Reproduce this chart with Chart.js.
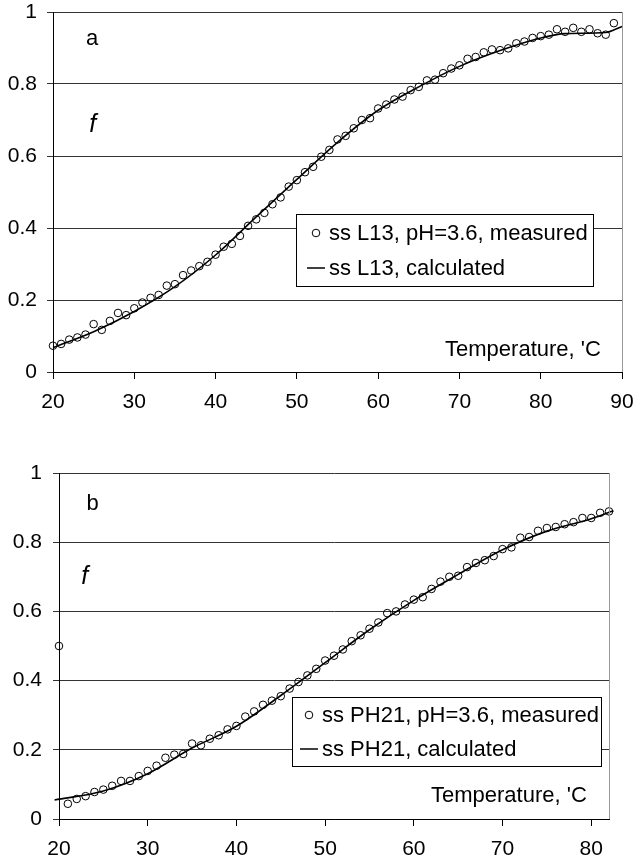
<!DOCTYPE html>
<html>
<head>
<meta charset="utf-8">
<title>f vs temperature</title>
<script src="https://cdn.jsdelivr.net/npm/chart.js@4.4.0/dist/chart.umd.min.js"></script>
<style>
  body { margin: 0; background: #fff; }
  canvas { position: absolute; left: 0; }
  #chartA { top: 0; }
  #chartB { top: 430px; }
</style>
</head>
<body>
<canvas id="chartA" width="634" height="430"></canvas>
<canvas id="chartB" width="634" height="436"></canvas>
<script>
// Panel a: ss L13
const tempA = [20, 21, 22, 23, 24, 25, 26, 27, 28, 29, 30, 31, 32, 33, 34, 35, 36, 37, 38, 39,
  40, 41, 42, 43, 44, 45, 46, 47, 48, 49, 50, 51, 52, 53, 54, 55, 56, 57, 58, 59,
  60, 61, 62, 63, 64, 65, 66, 67, 68, 69, 70, 71, 72, 73, 74, 75, 76, 77, 78, 79,
  80, 81, 82, 83, 84, 85, 86, 87, 88, 89];
const measuredA = [0.073, 0.078, 0.090, 0.096, 0.104, 0.133, 0.117, 0.142, 0.164, 0.158,
  0.177, 0.193, 0.206, 0.214, 0.240, 0.244, 0.269, 0.282, 0.294, 0.306,
  0.326, 0.348, 0.356, 0.378, 0.406, 0.424, 0.442, 0.466, 0.485, 0.515,
  0.533, 0.555, 0.570, 0.598, 0.617, 0.646, 0.656, 0.677, 0.700, 0.705,
  0.732, 0.743, 0.757, 0.765, 0.783, 0.792, 0.810, 0.812, 0.830, 0.843,
  0.852, 0.870, 0.875, 0.888, 0.896, 0.894, 0.899, 0.913, 0.918, 0.928,
  0.933, 0.937, 0.952, 0.945, 0.956, 0.945, 0.952, 0.941, 0.937, 0.969];
const calcTempA = [20, 25, 30, 35, 40, 45, 50, 55, 60, 65, 70, 75, 80, 83, 88, 90];
const calcA = [0.068, 0.112, 0.168, 0.237, 0.325, 0.431, 0.535, 0.638, 0.727, 0.792, 0.849, 0.893, 0.928, 0.940, 0.943, 0.960];

// Panel b: ss PH21
const tempB = [20, 21, 22, 23, 24, 25, 26, 27, 28, 29, 30, 31, 32, 33, 34, 35, 36, 37, 38, 39,
  40, 41, 42, 43, 44, 45, 46, 47, 48, 49, 50, 51, 52, 53, 54, 55, 56, 57, 58, 59,
  60, 61, 62, 63, 64, 65, 66, 67, 68, 69, 70, 71, 72, 73, 74, 75, 76, 77, 78, 79,
  80, 81, 82];
const measuredB = [0.500, 0.044, 0.058, 0.066, 0.078, 0.085, 0.096, 0.110, 0.110, 0.124,
  0.139, 0.154, 0.177, 0.186, 0.188, 0.218, 0.213, 0.232, 0.242, 0.259,
  0.269, 0.296, 0.311, 0.330, 0.342, 0.355, 0.377, 0.396, 0.415, 0.434,
  0.458, 0.472, 0.490, 0.514, 0.531, 0.550, 0.568, 0.595, 0.600, 0.620,
  0.634, 0.641, 0.665, 0.686, 0.700, 0.703, 0.728, 0.740, 0.748, 0.760,
  0.780, 0.785, 0.813, 0.815, 0.833, 0.841, 0.844, 0.852, 0.858, 0.870,
  0.870, 0.885, 0.889];
const calcTempB = [19.5, 25, 30, 35, 40, 45, 50, 55, 60, 65, 70, 75, 80, 82.5];
const calcB = [0.055, 0.081, 0.131, 0.205, 0.268, 0.357, 0.452, 0.547, 0.632, 0.707, 0.778, 0.832, 0.868, 0.891];

const yTicks = [0, 0.2, 0.4, 0.6, 0.8, 1];

Chart.defaults.font.family = "'Liberation Sans', Arial, sans-serif";
Chart.defaults.font.size = 21;
Chart.defaults.color = "#000";

const toPoints = (xs, ys) => xs.map((x, i) => ({ x: x, y: ys[i] }));

// Legend box inside the plot, drawn from the dataset labels
const boxLegend = {
  id: "boxLegend",
  afterDraw(chart, args, opts) {
    const ctx = chart.ctx;
    const area = chart.chartArea;
    const x = Math.round(area.left + opts.left);
    const y = Math.round(area.top + opts.top);
    ctx.save();
    ctx.fillStyle = "#fff";
    ctx.fillRect(x, y, opts.width, opts.height);
    ctx.strokeStyle = "#000";
    ctx.lineWidth = 1;
    ctx.strokeRect(x + 0.5, y + 0.5, opts.width, opts.height);
    ctx.font = "22px 'Liberation Sans', Arial, sans-serif";
    ctx.fillStyle = "#000";
    ctx.textBaseline = "middle";
    chart.data.datasets.forEach((ds, i) => {
      const cy = y + opts.rows[i];
      const sx = x + opts.symbolX;
      ctx.beginPath();
      if (ds.showLine) {
        ctx.lineWidth = 1.5;
        ctx.moveTo(sx - 9, cy);
        ctx.lineTo(sx + 9, cy);
      } else {
        ctx.lineWidth = 1;
        ctx.arc(sx, cy, 3.8, 0, Math.PI * 2);
      }
      ctx.stroke();
      ctx.fillText(ds.label, x + opts.textX, cy + 1);
    });
    ctx.restore();
  }
};

// Panel letter, f and axis name, plus the grey right edge of the plot
const notes = {
  id: "notes",
  afterDraw(chart, args, opts) {
    const ctx = chart.ctx;
    const area = chart.chartArea;
    const xs = chart.scales.x, ys = chart.scales.y;
    ctx.save();
    ctx.strokeStyle = "#999";
    ctx.lineWidth = 1;
    ctx.beginPath();
    ctx.moveTo(Math.round(area.right) + 0.5, area.top);
    ctx.lineTo(Math.round(area.right) + 0.5, area.bottom);
    ctx.stroke();
    ctx.fillStyle = "#000";
    ctx.textBaseline = "middle";
    opts.items.forEach(n => {
      ctx.font = n.font;
      ctx.textAlign = n.align || "center";
      ctx.fillText(n.text, xs.getPixelForValue(n.x), ys.getPixelForValue(n.y));
    });
    ctx.restore();
  }
};

function makePanel(id, cfg) {
  return new Chart(document.getElementById(id), {
    type: "scatter",
    data: {
      datasets: [{
        label: cfg.measuredLabel,
        data: toPoints(cfg.temps, cfg.measured),
        showLine: false,
        pointStyle: "circle",
        pointRadius: 3.8,
        pointBorderWidth: 1,
        pointBorderColor: "#000",
        pointBackgroundColor: "rgba(0,0,0,0)",
        clip: false
      }, {
        label: cfg.calcLabel,
        data: toPoints(cfg.calcTemps, cfg.calc),
        showLine: true,
        borderColor: "#000",
        borderWidth: 1.6,
        pointRadius: 0,
        cubicInterpolationMode: "monotone",
        clip: false
      }]
    },
    options: {
      responsive: false,
      animation: false,
      layout: { padding: cfg.padding },
      plugins: {
        legend: { display: false },
        tooltip: { enabled: false },
        boxLegend: cfg.legendBox,
        notes: { items: cfg.notes }
      },
      scales: {
        x: {
          type: "linear",
          min: cfg.xMin,
          max: cfg.xMax,
          ticks: { stepSize: 10, includeBounds: false, padding: 11, maxRotation: 0 },
          grid: { drawOnChartArea: false, drawTicks: true, tickLength: 7, color: "#000" },
          border: { color: "#000", width: 1 },
          afterFit: s => {
            s.height = cfg.xHeight;
            s.paddingLeft = 0;
            s.paddingRight = 0;
          }
        },
        y: {
          min: 0,
          max: 1,
          afterBuildTicks: s => { s.ticks = yTicks.map(v => ({ value: v })); },
          ticks: { padding: cfg.yPad, callback: v => String(Math.round(v * 10) / 10) },
          grid: { color: "#333", tickLength: 6 },
          border: { color: "#000", width: 1 },
          afterFit: s => {
            s.width = cfg.yWidth;
            s.paddingTop = 0;
            s.paddingBottom = 0;
          }
        }
      }
    },
    plugins: [boxLegend, notes]
  });
}

makePanel("chartA", {
  temps: tempA, measured: measuredA, calcTemps: calcTempA, calc: calcA,
  measuredLabel: "ss L13, pH=3.6, measured",
  calcLabel: "ss L13, calculated",
  xMin: 20, xMax: 90,
  padding: { left: 0, top: 12, right: 12, bottom: 0 },
  yWidth: 53, xHeight: 58, yPad: 10,
  legendBox: { left: 243, top: 202, width: 297, height: 72, rows: [19, 54], symbolX: 20, textX: 33 },
  notes: [
    { text: "a", x: 24.8, y: 0.925, font: "22px 'Liberation Sans', Arial, sans-serif" },
    { text: "f", x: 24.9, y: 0.685, font: "italic 25px 'Liberation Sans', Arial, sans-serif" },
    { text: "Temperature, 'C", x: 87.4, y: 0.061, align: "right", font: "22px 'Liberation Sans', Arial, sans-serif" }
  ]
});

makePanel("chartB", {
  temps: tempB, measured: measuredB, calcTemps: calcTempB, calc: calcB,
  measuredLabel: "ss PH21, pH=3.6, measured",
  calcLabel: "ss PH21, calculated",
  xMin: 20, xMax: 82,
  padding: { left: 0, top: 43, right: 25, bottom: 0 },
  yWidth: 59, xHeight: 47, yPad: 11,
  legendBox: { left: 233, top: 224, width: 309, height: 69, rows: [18, 52], symbolX: 17, textX: 30 },
  notes: [
    { text: "b", x: 23.8, y: 0.91, font: "22px 'Liberation Sans', Arial, sans-serif" },
    { text: "f", x: 22.9, y: 0.70, font: "italic 25px 'Liberation Sans', Arial, sans-serif" },
    { text: "Temperature, 'C", x: 79.5, y: 0.067, align: "right", font: "22px 'Liberation Sans', Arial, sans-serif" }
  ]
});
</script>
</body>
</html>
